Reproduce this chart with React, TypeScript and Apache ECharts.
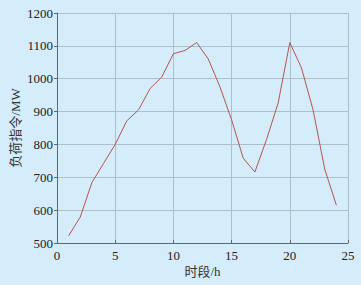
import React, { useEffect, useRef } from "react";
import * as echarts from "echarts";

const hours = [1, 2, 3, 4, 5, 6, 7, 8, 9, 10, 11, 12, 13, 14, 15, 16, 17, 18, 19, 20, 21, 22, 23, 24];
const load = [522, 579, 684, 742, 800, 872, 905, 970, 1005, 1076, 1086, 1110, 1060, 975, 875, 758, 716, 815, 926, 1110, 1033, 905, 725, 615];

export default function App() {
  const ref = useRef<HTMLDivElement>(null);
  useEffect(() => {
    document.body.style.margin = "0";
    const chart = echarts.init(ref.current!, null, { renderer: "svg" });
    const font = "'Liberation Serif', 'Noto Sans CJK SC', serif";
    chart.setOption({
      animation: false,
      backgroundColor: "#d5ecfa",
      grid: { left: 57, right: 13, top: 13, bottom: 42, containLabel: false, outerBoundsMode: "none" },
      xAxis: {
        type: "value",
        min: 0,
        max: 25,
        interval: 5,
        name: "时段/h",
        nameLocation: "middle",
        nameGap: 22,
        nameMoveOverlap: false,
        nameTextStyle: { fontFamily: font, fontSize: 13, color: "#333" },
        axisLine: { lineStyle: { color: "#666", width: 1 } },
        axisTick: { inside: true, length: 3, lineStyle: { color: "#666" } },
        axisLabel: { fontFamily: font, fontSize: 13, color: "#222", margin: 6 },
        splitLine: { lineStyle: { color: "#aebfcc", width: 1 } },
      },
      yAxis: {
        type: "value",
        min: 500,
        max: 1200,
        interval: 100,
        name: "负荷指令/MW",
        nameLocation: "middle",
        nameGap: 35,
        nameMoveOverlap: false,
        nameTextStyle: { fontFamily: font, fontSize: 13, color: "#333" },
        axisLine: { show: true, lineStyle: { color: "#666", width: 1 } },
        axisTick: { show: true, inside: false, length: 3, lineStyle: { color: "#666" } },
        axisLabel: { fontFamily: font, fontSize: 13, color: "#222", margin: 4, formatter: (v: number) => String(v) },
        splitLine: { lineStyle: { color: "#aebfcc", width: 1 } },
      },
      series: [
        {
          type: "line",
          data: hours.map((h, i) => [h, load[i]]),
          symbol: "none",
          lineStyle: { color: "#b4564c", width: 1 },
        },
      ],
    });
    return () => chart.dispose();
  }, []);
  return <div ref={ref} style={{ width: 361, height: 285 }} />;
}
